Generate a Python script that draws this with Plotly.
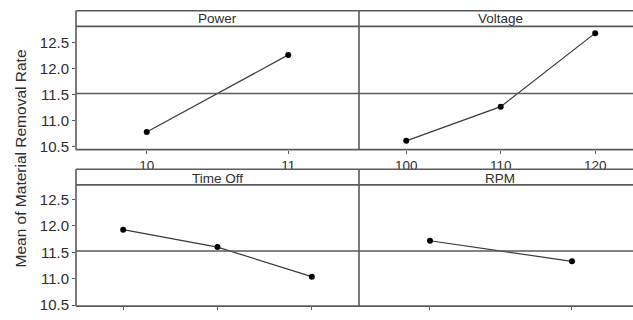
import plotly.graph_objects as go

# ---- data ----
power_levels = [10, 11]
power_means = [10.78, 12.27]
voltage_levels = [100, 110, 120]
voltage_means = [10.61, 11.27, 12.69]
timeoff_levels = [1, 2, 3]
timeoff_means = [11.93, 11.60, 11.04]
rpm_levels = [1, 2]
rpm_means = [11.72, 11.33]
grand_mean = 11.525
y_ticks = [10.5, 11.0, 11.5, 12.0, 12.5]
y_ticktext = ["10.5", "11.0", "11.5", "12.0", "12.5"]
panel_titles = ["Power", "Voltage", "Time Off", "RPM"]
y_title = "Mean of Material Removal Rate"

W, H = 633, 320
def px(x):
    return x / W
def py(y):
    return 1 - y / H

LINE = "#5a5a5a"
TXT = "#2e2e2e"
FONT = "Liberation Sans, Arial, sans-serif"

fig = go.Figure()
series = [
    (power_levels, power_means, "x", "y"),
    (voltage_levels, voltage_means, "x2", "y"),
    (timeoff_levels, timeoff_means, "x3", "y2"),
    (rpm_levels, rpm_means, "x4", "y2"),
]
for xs, ys, xa, ya in series:
    fig.add_trace(go.Scatter(
        x=xs, y=ys, xaxis=xa, yaxis=ya, mode="lines+markers",
        line=dict(color="#3a3a3a", width=1.2),
        marker=dict(color="black", size=6),
        showlegend=False, hoverinfo="skip"))

xcommon = dict(ticks="outside", ticklen=3, tickcolor=LINE, showgrid=False,
               zeroline=False, showline=False, ticklabelstandoff=0,
               tickfont=dict(family=FONT, size=13.5, color=TXT))
ycommon = dict(ticks="outside", ticklen=3, tickcolor=LINE, showgrid=False,
               zeroline=False, showline=False, tickvals=y_ticks,
               ticktext=y_ticktext,
               tickfont=dict(family=FONT, size=15, color=TXT))

fig.update_layout(
    width=W, height=H, margin=dict(l=0, r=0, t=0, b=0),
    paper_bgcolor="white", plot_bgcolor="white",
    xaxis=dict(domain=[px(76), px(359)], anchor="y", range=[9.5, 11.5],
               tickvals=power_levels, **xcommon),
    xaxis2=dict(domain=[px(359), 1], anchor="y", range=[95, 124],
                tickvals=voltage_levels, **xcommon),
    xaxis3=dict(domain=[px(76), px(359)], anchor="y2", range=[0.5, 3.5],
                tickvals=timeoff_levels, showticklabels=False, **xcommon),
    xaxis4=dict(domain=[px(359), 1], anchor="y2", range=[0.5, 2.43],
                tickvals=rpm_levels, showticklabels=False, **xcommon),
    yaxis=dict(domain=[py(153), py(27)], anchor="x", range=[10.44, 12.82], **ycommon),
    yaxis2=dict(domain=[py(313), py(189)], anchor="x3", range=[10.48, 12.78], **ycommon),
)

shapes = []
def hline(y, x0=76, x1=W):
    shapes.append(dict(type="line", xref="paper", yref="paper", x0=px(x0), x1=px(x1),
                       y0=py(y), y1=py(y), line=dict(color=LINE, width=1.6)))
def vline(x, y0, y1):
    shapes.append(dict(type="line", xref="paper", yref="paper", x0=px(x), x1=px(x),
                       y0=py(y0), y1=py(y1), line=dict(color=LINE, width=1.6)))

for top, head, bot in [(11, 27, 153), (173, 189, 313)]:
    hline(top); hline(head); hline(bot)
    vline(76, top, bot); vline(359, top, bot)

for xa, ya in [("x", "y"), ("x2", "y"), ("x3", "y2"), ("x4", "y2")]:
    shapes.append(dict(type="line", xref=f"{xa} domain", yref=ya, x0=0, x1=1,
                       y0=grand_mean, y1=grand_mean, line=dict(color=LINE, width=1.6)))
fig.update_layout(shapes=shapes)

annots = []
centers = [(217.5, 19), (500, 19), (217.5, 182.5), (500, 182.5)]
for t, (cx, cy) in zip(panel_titles, centers):
    annots.append(dict(text=t, xref="paper", yref="paper", x=px(cx), y=py(cy),
                       showarrow=False, xanchor="center", yanchor="middle",
                       borderpad=0,
                       font=dict(family=FONT, size=13.5, color=TXT)))
annots.append(dict(text=y_title, xref="paper", yref="paper", x=px(20), y=py(162),
                   showarrow=False, textangle=-90, xanchor="center", yanchor="middle",
                   font=dict(family=FONT, size=15.5, color=TXT)))
fig.update_layout(annotations=annots)

fig.write_html("out.html", config={"displayModeBar": False},
               post_script="document.body.style.margin='0';document.body.style.overflow='hidden';")
